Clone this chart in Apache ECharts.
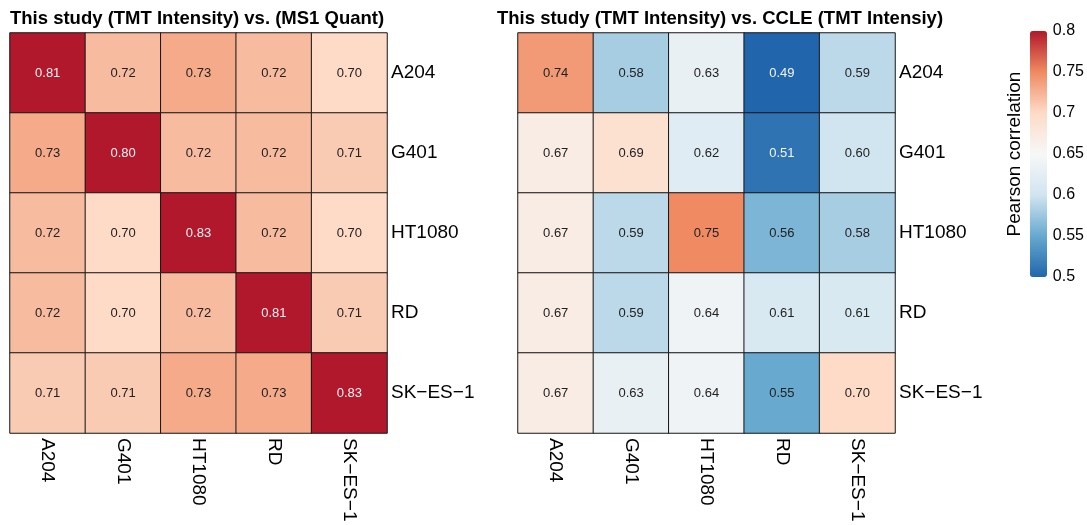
<!DOCTYPE html>
<html>
<head>
<meta charset="utf-8">
<script src="https://cdn.jsdelivr.net/npm/echarts@6/dist/echarts.min.js"></script>
<style>
  html, body { margin: 0; padding: 0; background: #fff; }
  #chart { width: 1087px; height: 525px; }
</style>
</head>
<body>
<div id="chart"></div>
<script>
// Cell lines (rows top to bottom, columns left to right)
const cellLines = ['A204', 'G401', 'HT1080', 'RD', 'SK\u2212ES\u22121'];

// This study (TMT Intensity) vs. (MS1 Quant): one row per cell line
const ms1Quant = [
  [0.81, 0.72, 0.73, 0.72, 0.70],
  [0.73, 0.80, 0.72, 0.72, 0.71],
  [0.72, 0.70, 0.83, 0.72, 0.70],
  [0.72, 0.70, 0.72, 0.81, 0.71],
  [0.71, 0.71, 0.73, 0.73, 0.83]
];

// This study (TMT Intensity) vs. CCLE (TMT Intensity)
const ccleTmt = [
  [0.74, 0.58, 0.63, 0.49, 0.59],
  [0.67, 0.69, 0.62, 0.51, 0.60],
  [0.67, 0.59, 0.75, 0.56, 0.58],
  [0.67, 0.59, 0.64, 0.61, 0.61],
  [0.67, 0.63, 0.64, 0.55, 0.70]
];

// Colour scale (reversed RdBu) and legend ticks
const colorMin = 0.5;
const colorMax = 0.8;
const colorTicks = [0.5, 0.55, 0.6, 0.65, 0.7, 0.75, 0.8];
const palette = ['#2166AC', '#67A9CF', '#D1E5F0', '#F7F7F7', '#FDDBC7', '#EF8A62', '#B2182B'];

const titles = [
  'This study (TMT Intensity) vs. (MS1 Quant)',
  'This study (TMT Intensity) vs. CCLE (TMT Intensiy)'
];

const FONT = '"Liberation Sans", Arial, Helvetica, sans-serif';

// [col, row, value, clamped value for colour]
function toCells(matrix) {
  const out = [];
  matrix.forEach((row, r) => {
    row.forEach((v, c) => {
      const clamped = Math.min(colorMax, Math.max(colorMin, v));
      const dark = v >= 0.78 || v <= 0.52;
      out.push({
        value: [c, r, v, clamped],
        label: { color: dark ? '#f4f4f4' : '#222222' }
      });
    });
  });
  return out;
}

const grids = [
  { left: 10, top: 33, width: 377, height: 400 },
  { left: 518, top: 33, width: 377, height: 400 },
  { left: 1030, top: 31, width: 17, height: 246 }
];

function catX(gi) {
  return {
    type: 'category', gridIndex: gi, data: cellLines, position: 'bottom',
    axisLine: { show: false }, axisTick: { show: false }, splitLine: { show: false },
    axisLabel: { rotate: -90, margin: 5, fontSize: 19, color: '#000', fontFamily: FONT, interval: 0 }
  };
}
function catY(gi) {
  return {
    type: 'category', gridIndex: gi, data: cellLines, inverse: true, position: 'right',
    axisLine: { show: false }, axisTick: { show: false }, splitLine: { show: false },
    axisLabel: { margin: 4, fontSize: 19, color: '#000', fontFamily: FONT, interval: 0 }
  };
}

function heat(idx, matrix) {
  return {
    type: 'heatmap',
    xAxisIndex: idx, yAxisIndex: idx,
    data: toCells(matrix),
    encode: { x: 0, y: 1, value: 3 },
    itemStyle: { borderColor: '#161616', borderWidth: 1 },
    label: {
      show: true, fontSize: 13, fontFamily: FONT,
      formatter: p => p.value[2].toFixed(2)
    },
    emphasis: { disabled: true }
  };
}

const option = {
  backgroundColor: '#ffffff',
  animation: false,
  title: titles.map((t, i) => ({
    text: t, left: i === 0 ? 10 : 497, top: 9, padding: 0,
    textStyle: { fontSize: 18.5, fontWeight: 'bold', color: '#000', fontFamily: FONT }
  })),
  grid: grids,
  xAxis: [
    catX(0), catX(1),
    { type: 'value', gridIndex: 2, show: false, min: 0, max: 1 }
  ],
  yAxis: [
    catY(0), catY(1),
    {
      type: 'value', gridIndex: 2, position: 'right', min: colorMin, max: colorMax, interval: 0.05,
      axisLine: { show: false }, axisTick: { show: false }, splitLine: { show: false },
      axisLabel: {
        margin: 6, fontSize: 16, color: '#000', fontFamily: FONT,
        customValues: colorTicks, formatter: v => String(+v.toFixed(2))
      }
    },
    {
      type: 'value', gridIndex: 2, position: 'left', min: colorMin, max: colorMax,
      name: 'Pearson correlation', nameLocation: 'middle', nameRotate: 90, nameGap: 5.5,
      nameTextStyle: { fontSize: 19, color: '#000', fontFamily: FONT },
      axisLine: { show: false }, axisTick: { show: false }, splitLine: { show: false },
      axisLabel: { show: false }
    }
  ],
  visualMap: {
    type: 'continuous',
    min: colorMin, max: colorMax,
    dimension: 3,
    seriesIndex: [0, 1],
    calculable: false,
    realtime: false,
    itemWidth: 17, itemHeight: 246,
    left: 1030, top: 31,
    padding: 0,
    text: null,
    showLabel: false,
    inRange: { color: palette }
  },
  series: [heat(0, ms1Quant), heat(1, ccleTmt)]
};

const chart = echarts.init(document.getElementById('chart'), null, { renderer: 'canvas' });
chart.setOption(option);
</script>
</body>
</html>
